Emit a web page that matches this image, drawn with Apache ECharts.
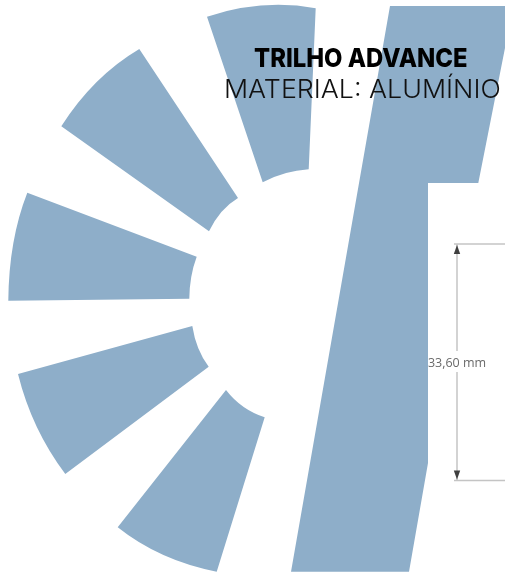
<!DOCTYPE html>
<html><head><meta charset="utf-8">
<style>html,body{margin:0;padding:0;background:#fff}#c{width:505px;height:574px}</style>
<script src="https://cdn.jsdelivr.net/npm/echarts@6/dist/echarts.min.js"></script>
</head><body><div id="c"></div>
<script>
// each blade: outer start, outer mid, outer end, inner end, inner mid, inner start (x,y)
var bladeTop    = [207,16.7, 262,5.5, 315.7,8.3, 308.7,169.3, 285,173.3, 262.7,182.3];
var bladeUpper  = [139.3,49, 96.7,82, 61.3,126.3, 209,231.3, 221.7,211.7, 238,198];
var bladeLeft   = [27.3,192.7, 13.3,243.3, 8.3,300.7, 189.3,298.7, 191.3,276.7, 196.7,256.7];
var bladeLower  = [18,374, 36.7,426.7, 65.3,474, 208.7,366.7, 198.3,348.3, 192.3,326];
var bladeBottom = [117.7,527.3, 163.3,555, 216.7,571.7, 264.7,417.3, 243.3,406.7, 226,390];
var blades = [bladeTop, bladeUpper, bladeLeft, bladeLower, bladeBottom];
// rail profile outline
var railX = [390,505,505,478.3,428,428,409,291];
var railY = [6,6,48,183,183,463,571.7,571.7];
// dimension
var dimX = 457, dimTop = 244, dimBottom = 480.5, dimEnd = 505, dimGapTop = 351, dimGapBottom = 372;
var dimLabel = '33,60 mm';
var titleText = 'TRILHO ADVANCE', subText = 'MATERIAL: ALUMÍNIO';
var FILL = '#8eaec9';

var chart = echarts.init(document.getElementById('c'), null, {renderer:'canvas'});
chart.setOption({
  animation:false,
  backgroundColor:'#fff',
  grid:{left:0,right:0,top:0,bottom:0},
  xAxis:{type:'value',min:0,max:505,show:false},
  yAxis:{type:'value',min:0,max:574,inverse:true,show:false},
  series:[
    {type:'custom',coordinateSystem:'cartesian2d',silent:true,clip:false,
     data:blades,
     encode:{x:[0,2,4,6,8,10],y:[1,3,5,7,9,11]},
     renderItem:function(params,api){
       var v=[]; for(var i=0;i<12;i+=2){v.push(api.coord([api.value(i),api.value(i+1)]));}
       function ctrl(a,m,b){return [2*m[0]-(a[0]+b[0])/2, 2*m[1]-(a[1]+b[1])/2];}
       var c1=ctrl(v[0],v[1],v[2]), c2=ctrl(v[3],v[4],v[5]);
       return {type:'path',style:{fill:FILL},shape:{
         pathData:['M',v[0][0],v[0][1],'Q',c1[0],c1[1],v[2][0],v[2][1],'L',v[3][0],v[3][1],'Q',c2[0],c2[1],v[5][0],v[5][1],'Z'].join(' ')
       }};
     }},
    {type:'custom',coordinateSystem:'cartesian2d',silent:true,
     data:railX.map(function(x,i){return [x,railY[i]];}),
     renderItem:function(params,api){
       if(params.dataIndex!==0) return null;
       var pts=railX.map(function(x,i){return api.coord([x,railY[i]]);});
       return {type:'polygon',shape:{points:pts},style:{fill:FILL}};
     }},
    {type:'custom',coordinateSystem:'cartesian2d',silent:true,
     data:[[dimX,dimTop]],
     renderItem:function(params,api){
       var L='#c4c4c4', A='#3f3f3f';
       function P(x,y){return api.coord([x,y]);}
       function line(a,b){return {type:'line',shape:{x1:a[0],y1:a[1],x2:b[0],y2:b[1]},style:{stroke:L,lineWidth:1.5}};}
       return {type:'group',children:[
         line(P(dimX-3,dimTop),P(dimEnd,dimTop)),
         line(P(dimX-3,dimBottom),P(dimEnd,dimBottom)),
         line(P(dimX,dimTop),P(dimX,dimGapTop)),
         line(P(dimX,dimGapBottom),P(dimX,dimBottom)),
         {type:'polygon',shape:{points:[P(dimX,dimTop+1),P(dimX-3.2,dimTop+10),P(dimX+3.2,dimTop+10)]},style:{fill:A}},
         {type:'polygon',shape:{points:[P(dimX,dimBottom-1),P(dimX-3.2,dimBottom-10),P(dimX+3.2,dimBottom-10)]},style:{fill:A}},
         {type:'text',x:P(dimX,0)[0],y:P(0,363)[1],style:{text:dimLabel,fill:'#6a6a6a',font:'12.5px "Open Sans"',align:'center',verticalAlign:'middle'}}
       ]};
     }}
  ],
  graphic:[
    {type:'text',z:100,x:254,y:59,scaleX:0.917,style:{text:titleText,fill:'#000',font:'800 26px Inter',verticalAlign:'middle'}},
    {type:'text',z:100,x:224,y:90,scaleX:1.03,style:{text:subText,fill:'#111',font:'300 26px Inter',verticalAlign:'middle'}}
  ]
});
</script></body></html>
